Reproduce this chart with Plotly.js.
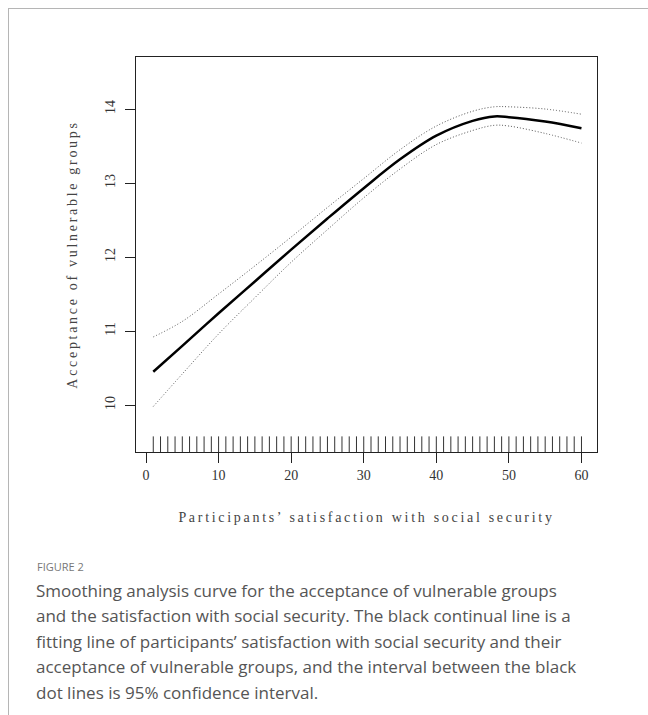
<!DOCTYPE html>
<html>
<head>
<meta charset="utf-8">
<script src="https://cdn.plot.ly/plotly-3.0.1.min.js"></script>
<style>
  html, body { margin: 0; padding: 0; background: #fff; }
  #wrap { position: relative; width: 648px; height: 715px; }
  #chart { width: 648px; height: 715px; }
  #frame { position: absolute; left: 8px; top: 8px; right: 0; bottom: 0;
           border-left: 1px solid #b5b5b5; border-top: 1px solid #b5b5b5; pointer-events: none; }
  .g-xtitle text, .g-ytitle text { letter-spacing: 2.7px; }
</style>
</head>
<body>
<div id="wrap">
  <div id="chart"></div>
  <div id="frame"></div>
</div>
<script>
// Smoothed fit (x = satisfaction with social security)
const satisfaction = [1, 5, 10, 15, 20, 25, 30, 35, 40, 45, 48, 50, 55, 60];
const fitValue     = [10.45, 10.80, 11.24, 11.67, 12.10, 12.52, 12.93, 13.32, 13.64, 13.84, 13.90, 13.89, 13.83, 13.74];
const upperCI      = [10.92, 11.13, 11.50, 11.88, 12.27, 12.67, 13.06, 13.45, 13.77, 13.97, 14.03, 14.03, 14.00, 13.93];
const lowerCI      = [9.98, 10.42, 10.96, 11.45, 11.93, 12.37, 12.80, 13.19, 13.52, 13.71, 13.78, 13.77, 13.67, 13.54];
// Observed x values shown as rug
const rugValues = [1,2,3,4,5,6,7,8,9,10,11,12,13,14,15,16,17,18,19,20,21,22,23,24,25,26,27,28,29,30,
                   31,32,33,34,35,36,37,38,39,40,41,42,43,44,45,46,47,48,49,50,51,52,53,54,55,56,57,58,59,60];
const xTickVals = [0, 10, 20, 30, 40, 50, 60];
const yTickVals = [10, 11, 12, 13, 14];

const xTitle = "Participants’ satisfaction with social security";
const yTitle = "Acceptance of vulnerable groups";
const captionHead = "FIGURE 2";
const captionLines = [
  "Smoothing analysis curve for the acceptance of vulnerable groups",
  "and the satisfaction with social security. The black continual line is a",
  "fitting line of participants’ satisfaction with social security and their",
  "acceptance of vulnerable groups, and the interval between the black",
  "dot lines is 95% confidence interval."
];

const yRange = [9.365, 14.703];
const rugLevel = 9.453;

const traces = [
  { x: satisfaction, y: upperCI, mode: 'lines', line: { color: '#555', width: 1, dash: '1px,2px', shape: 'spline' }, hoverinfo: 'skip' },
  { x: satisfaction, y: lowerCI, mode: 'lines', line: { color: '#555', width: 1, dash: '1px,2px', shape: 'spline' }, hoverinfo: 'skip' },
  { x: satisfaction, y: fitValue, mode: 'lines', line: { color: '#000', width: 2.5, shape: 'spline' } },
  { x: rugValues, y: rugValues.map(() => rugLevel), mode: 'markers',
    marker: { symbol: 'line-ns', size: 13, line: { color: '#333', width: 1 } }, hoverinfo: 'skip' }
];

const serif = '"Liberation Serif", "DejaVu Serif", serif';
const sans = '"Open Sans", "Noto Sans", sans-serif';

// caption pixel layout -> paper coords (plot area: top 57, height 395; left 136, width 461)
const plotTop = 57, plotH = 395, plotLeft = 136, plotW = 461;
const py = (px) => (plotTop + plotH - px) / plotH;
const pxX = (px) => (px - plotLeft) / plotW;

const annotations = [
  { xref: 'paper', yref: 'paper', x: pxX(35), y: py(566), xanchor: 'left', yanchor: 'middle', showarrow: false,
    text: captionHead, font: { family: sans, size: 11, color: '#777' } }
];
captionLines.forEach((line, i) => {
  annotations.push({ xref: 'paper', yref: 'paper', x: pxX(34), y: py(590 + 25.5 * i), xanchor: 'left', yanchor: 'middle',
    showarrow: false, align: 'left', text: line, font: { family: sans, size: 17, color: '#555' } });
});

const layout = {
  width: 648, height: 715,
  margin: { l: plotLeft, r: 648 - plotLeft - plotW, t: plotTop, b: 715 - plotTop - plotH },
  paper_bgcolor: '#fff', plot_bgcolor: '#fff',
  showlegend: false,
  xaxis: {
    range: [-1.38, 62.14], tickvals: xTickVals, ticks: 'outside', ticklen: 10, tickwidth: 1, tickcolor: '#222',
    showline: true, linecolor: '#222', linewidth: 1.2, mirror: true, showgrid: false, zeroline: false,
    tickfont: { family: serif, size: 14, color: '#333' },
    title: { text: xTitle, font: { family: serif, size: 14, color: '#444' }, standoff: 30 }
  },
  yaxis: {
    range: yRange, tickvals: yTickVals, ticks: 'outside', ticklen: 10, tickwidth: 1, tickcolor: '#222', tickangle: -90,
    ticklabelstandoff: 4,
    showline: true, linecolor: '#222', linewidth: 1.2, mirror: true, showgrid: false, zeroline: false,
    tickfont: { family: serif, size: 14, color: '#333' },
    title: { text: yTitle, font: { family: serif, size: 14, color: '#444' }, standoff: 22 }
  },
  annotations: annotations
};

Plotly.newPlot('chart', traces, layout, { displayModeBar: false, staticPlot: true });
</script>
</body>
</html>
